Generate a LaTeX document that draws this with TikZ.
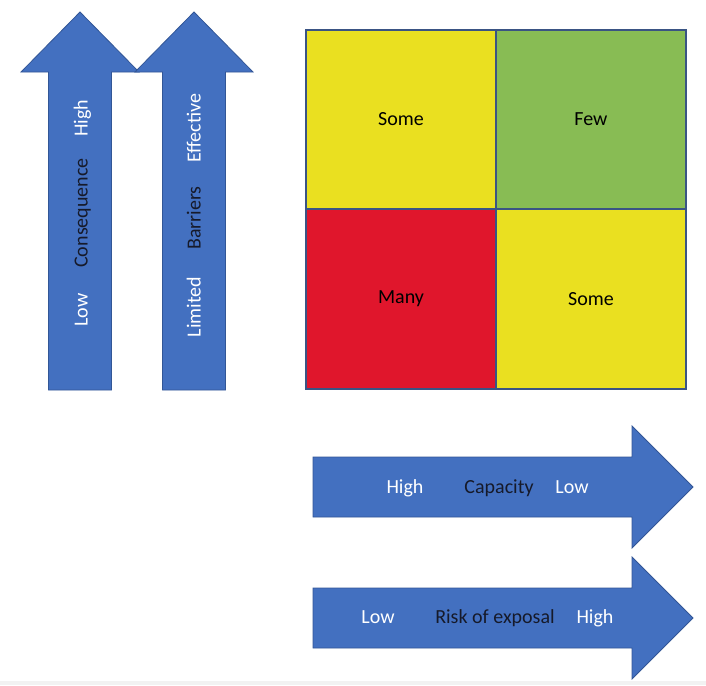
\documentclass[tikz,border=0pt]{standalone}
\usepackage{fontspec}
\setmainfont{Carlito}
\usetikzlibrary{positioning}
\definecolor{arrowblue}{RGB}{67,112,192}
\definecolor{arrowedge}{RGB}{50,86,150}
\definecolor{riskyellow}{RGB}{234,224,32}
\definecolor{riskgreen}{RGB}{136,188,84}
\definecolor{riskred}{RGB}{224,22,44}
\definecolor{gridedge}{RGB}{58,84,132}
\definecolor{labeldark}{RGB}{22,26,42}
\newcommand{\lblsize}{\fontsize{20}{24}\selectfont}

\begin{document}
\begin{tikzpicture}[x=1pt, y=-1pt,
    bigarrow/.style={fill=arrowblue, draw=arrowedge, line width=0.8pt},
    cell/.style={draw=gridedge, line width=1.6pt, minimum width=190pt, minimum height=179.5pt,
                 inner sep=0pt, outer sep=0pt, font=\lblsize, text=black},
    wlabel/.style={font=\lblsize, text=white, text height=0.7em, text depth=0.2em},
    dlabel/.style={font=\lblsize, text=labeldark, text height=0.7em, text depth=0.2em}]
    \useasboundingbox (0,0) rectangle (706,685);
    \fill[gray!10] (0,681) rectangle (706,685);

    % Vertical arrows (consequence, barriers)
    \foreach \cx in {80,194} {
        \draw[bigarrow] (\cx-31.5,390) -- (\cx-31.5,72) -- (\cx-59,72) -- (\cx,12)
            -- (\cx+59,72) -- (\cx+31.5,72) -- (\cx+31.5,390) -- cycle;
    }
    \node[wlabel, rotate=90] (conslow) at (85,310) {Low};
    \node[dlabel, rotate=90] (conslab) at (85,213) {Consequence};
    \node[wlabel, rotate=90] (conshigh) at (85,118) {High};
    \node[wlabel, rotate=90] (barrlow) at (198,307) {Limited};
    \node[dlabel, rotate=90] (barrlab) at (198,218) {Barriers};
    \node[wlabel, rotate=90] (barrhigh) at (198,128) {Effective};

    % Risk matrix
    \node[cell, fill=riskyellow] (someA) at (401,119.5) {Some};
    \node[cell, fill=riskgreen, right=0pt of someA] (few) {Few};
    \node[cell, fill=riskred, below=0pt of someA] (many) {Many};
    \node[cell, fill=riskyellow, right=0pt of many] (someB) {Some};

    % Horizontal arrows (capacity, risk of exposal)
    \foreach \cy in {487,618} {
        \draw[bigarrow] (313,\cy-30) -- (632,\cy-30) -- (632,\cy-61) -- (693,\cy)
            -- (632,\cy+61) -- (632,\cy+30) -- (313,\cy+30) -- cycle;
    }
    \node[wlabel] (caphigh) at (405,491) {High};
    \node[dlabel] (caplab) at (499,491) {Capacity};
    \node[wlabel] (caplow) at (572,491) {Low};
    \node[wlabel] (risklow) at (378,621) {Low};
    \node[dlabel] (risklab) at (495,621) {Risk of exposal};
    \node[wlabel] (riskhigh) at (595,621) {High};
\end{tikzpicture}
\end{document}
